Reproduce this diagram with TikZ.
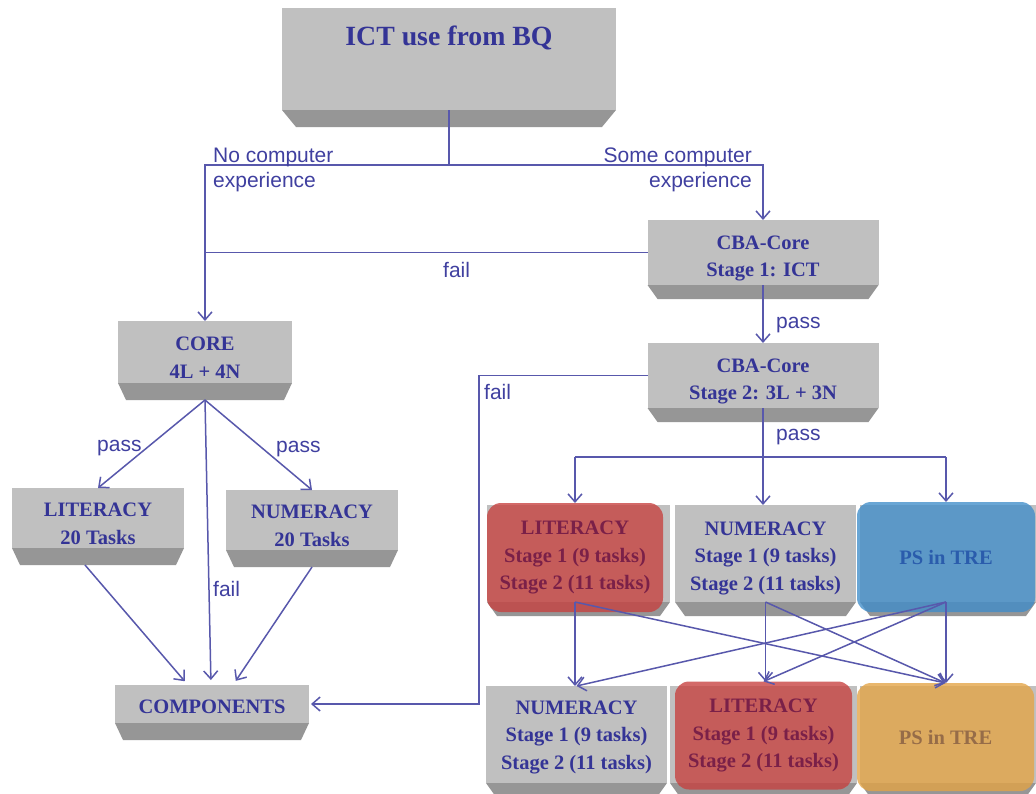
\documentclass[tikz,border=0pt]{standalone}
\usepackage{fontspec}
\setmainfont{Liberation Serif}
\newfontfamily\sanslabel{Liberation Sans}
\usetikzlibrary{arrows.meta}

\definecolor{ink}{RGB}{52,52,150}
\definecolor{labelink}{RGB}{64,64,160}
\definecolor{wirecol}{RGB}{88,88,172}
\definecolor{slabface}{RGB}{192,192,192}
\definecolor{slabedge}{RGB}{150,150,150}
\definecolor{litfill}{RGB}{199,64,62}
\definecolor{psfill}{RGB}{64,141,202}
\definecolor{pstwofill}{RGB}{228,164,68}
\definecolor{littext}{RGB}{122,32,72}
\definecolor{pstext}{RGB}{42,92,172}
\definecolor{pstwotext}{RGB}{150,108,72}

\newcommand\boxfont{\fontsize{20.5}{27.5}\selectfont\bfseries}
\newcommand\titlefont{\fontsize{27.8}{32}\selectfont\bfseries}
\newcommand\labelsize{\fontsize{21}{25}\selectfont\sanslabel}

% darker bevel under a slab face: #1 node, #2 inset, #3 depth
\newcommand\slabbevel[3]{%
  \fill[slabedge] (#1.south west) -- (#1.south east)
    -- ([xshift=-#2pt,yshift=-#3pt]#1.south east)
    -- ([xshift=#2pt,yshift=-#3pt]#1.south west) -- cycle;}

\tikzset{
  slab/.style={rectangle, fill=slabface, draw=none, inner sep=0pt, outer sep=0pt},
  boxtext/.style={font=\boxfont, text=ink, align=center, inner sep=0pt},
  tile/.style={rectangle, rounded corners=14pt, inner sep=0pt, outer sep=0pt,
    fill opacity=0.78, text opacity=1, font=\boxfont, align=center},
  lbl/.style={font=\labelsize, text=labelink, inner sep=0pt},
  wire/.style={draw=wirecol, line width=1.5pt},
  arr/.style={wire, -{Straight Barb[length=8pt,width=14pt]}},
}

\begin{document}
\begin{tikzpicture}[x=1pt,y=-1pt]
\useasboundingbox (0,0) rectangle (1036,793);
\fill[white] (0,0) rectangle (1036,793);

% ---- title slab
\node[slab, minimum width=334, minimum height=102] (bq) at (449,59) {};
\slabbevel{bq}{14}{17}
\node[boxtext, font=\titlefont] (bqtxt) at (449,38) {ICT use from BQ};

% ---- computer-based core stages
\node[slab, minimum width=231, minimum height=65] (cba1) at (763,252.5) {};
\slabbevel{cba1}{10}{14}
\node[boxtext] (cba1txt) at (763,258.5) {CBA-Core\\Stage 1: ICT};
\node[slab, minimum width=231, minimum height=65] (cba2) at (763,375.5) {};
\slabbevel{cba2}{10}{14}
\node[boxtext] (cba2txt) at (763,381.5) {CBA-Core\\Stage 2: 3L + 3N};

% ---- paper branch
\node[slab, minimum width=174, minimum height=62] (core) at (205,352) {};
\slabbevel{core}{8}{17}
\node[boxtext] (coretxt) at (205,357.5) {CORE\\4L + 4N};
\node[slab, minimum width=172, minimum height=60] (lit20) at (98,518) {};
\slabbevel{lit20}{8}{17}
\node[boxtext] (lit20txt) at (98,524) {LITERACY\\20 Tasks};
\node[slab, minimum width=172, minimum height=60] (num20) at (312,520) {};
\slabbevel{num20}{8}{17}
\node[boxtext] (num20txt) at (312,526) {NUMERACY\\20 Tasks};
\node[slab, minimum width=194, minimum height=38] (comp) at (212,704) {};
\slabbevel{comp}{8}{17}
\node[boxtext] (comptxt) at (212,707) {COMPONENTS};

% ---- first module row
\node[slab, minimum width=183, minimum height=97] (lit1s) at (578.5,553.5) {};
\slabbevel{lit1s}{10}{14}
\node[tile, fill=litfill, text=littext, minimum width=176, minimum height=109]
  (lit1) at (575,557.5) {LITERACY\\Stage 1 (9 tasks)\\Stage 2 (11 tasks)};
\node[slab, minimum width=181, minimum height=97] (num1) at (765.5,553.5) {};
\slabbevel{num1}{10}{14}
\node[boxtext] (num1txt) at (765.5,558) {NUMERACY\\Stage 1 (9 tasks)\\Stage 2 (11 tasks)};
\node[slab, minimum width=176, minimum height=97] (ps1s) at (948,553.5) {};
\slabbevel{ps1s}{10}{14}
\node[tile, fill=psfill, text=pstext, minimum width=178, minimum height=110]
  (ps1) at (946,557) {PS in TRE};

% ---- second module row
\node[slab, minimum width=181, minimum height=97] (num2) at (576.5,734.5) {};
\slabbevel{num2}{10}{14}
\node[boxtext] (num2txt) at (576.5,737) {NUMERACY\\Stage 1 (9 tasks)\\Stage 2 (11 tasks)};
\node[slab, minimum width=187, minimum height=97] (lit2s) at (763.5,734.5) {};
\slabbevel{lit2s}{10}{14}
\node[tile, fill=litfill, text=littext, minimum width=177, minimum height=108]
  (lit2) at (763.5,735.5) {LITERACY\\Stage 1 (9 tasks)\\Stage 2 (11 tasks)};
\node[slab, minimum width=176, minimum height=97] (ps2s) at (948,734.5) {};
\slabbevel{ps2s}{10}{14}
\node[tile, fill=pstwofill, text=pstwotext, minimum width=177, minimum height=108]
  (ps2) at (945.5,737) {PS in TRE};

% ---- routing from the background questionnaire
\coordinate (split) at (449,165);
\draw[wire] (bq.south) -- (split);
\draw[arr] (split) -| (core.north);
\draw[arr] (split) -| (cba1.north);
\draw[wire] (cba1.west) -- (cba1.west -| core.north);
\draw[arr] (cba1.south) -- (cba2.north);
\coordinate (failx) at (479,0);
\draw[arr, shorten >=2pt] (cba2.west) -- (cba2.west -| failx) |- (comp.east);

\coordinate (hub) at (763,457);
\draw[wire] (cba2.south) -- (hub);
\draw[wire] (hub -| lit1.north) -- (hub -| ps1.north);
\draw[arr] (hub -| lit1.north) -- (lit1.north);
\draw[arr] (hub) -- (hub |- num1.north);
\draw[arr] (hub -| ps1.north) -- (ps1.north);

% ---- first row to second row
\coordinate (s1) at ([yshift=10pt]lit1.south);
\coordinate (s2) at (num1.south);
\coordinate (s3) at ([yshift=10pt]ps1.south);
\draw[arr] (s1) -- (s1 |- num2.north);
\draw[arr] (s1) -- (ps2.north);
\draw[arr] (s2) -- (s2 |- lit2.north);
\draw[arr] (s2) -- (ps2.north);
\draw[arr] (s3) -- (s3 |- ps2.north);
\draw[arr] (s3) -- (num2.north);
\draw[arr] (s3) -- (lit2.north);

% ---- paper branch connectors
\coordinate (coreb) at ([yshift=-17pt]core.south);
\draw[arr] (coreb) -- (lit20.north);
\draw[arr] (coreb) -- (num20.north);
\draw[arr, shorten >=5pt] (coreb) -- ([xshift=-1pt]comp.north);
\draw[arr, shorten >=5pt] ([xshift=-13pt,yshift=-17pt]lit20.south) -- ([xshift=-24pt]comp.north);
\draw[arr, shorten >=5pt] ([yshift=-17pt]num20.south) -- ([xshift=21pt]comp.north);

% ---- connector labels
\node[lbl, anchor=base west] (nc1) at (213,162) {No computer};
\node[lbl, anchor=base west] (nc2) at (213,187) {experience};
\node[lbl, anchor=base east] (sc1) at (752,162) {Some computer};
\node[lbl, anchor=base east] (sc2) at (752,187) {experience};
\node[lbl, anchor=base west] (f1) at (443,277) {fail};
\node[lbl, anchor=base west] (p1) at (776,328) {pass};
\node[lbl, anchor=base west] (f2) at (484,399) {fail};
\node[lbl, anchor=base west] (p2) at (776,440) {pass};
\node[lbl, anchor=base west] (p3) at (97,451) {pass};
\node[lbl, anchor=base west] (p4) at (276,452) {pass};
\node[lbl, anchor=base west] (f3) at (213,596) {fail};
\end{tikzpicture}
\end{document}
